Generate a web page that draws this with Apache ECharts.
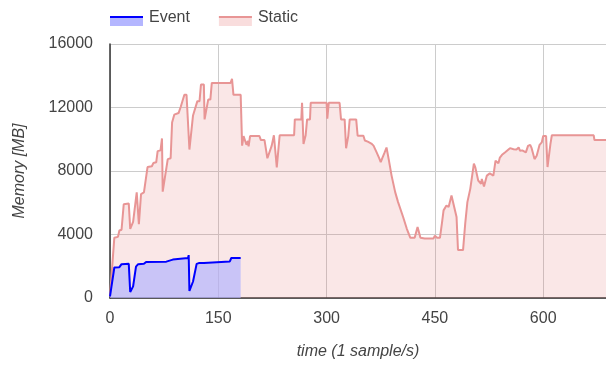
<!DOCTYPE html>
<html>
<head>
<meta charset="utf-8">
<script src="https://cdn.jsdelivr.net/npm/echarts@6/dist/echarts.min.js"></script>
<style>
html,body{margin:0;padding:0;background:#fff;}
#c{width:606px;height:365px;}
</style>
</head>
<body>
<div id="c"></div>
<script>
// time (s) and memory (MB) readings for each series
const eventTime = [0, 6, 13, 16, 26, 27, 28, 32, 36, 39, 47, 50, 78, 79, 87, 89, 108, 109, 110, 115, 120, 123, 130, 132, 166, 168, 181];
const eventMem  = [100, 1920, 1940, 2130, 2150, 2150, 380, 730, 1980, 2130, 2150, 2270, 2290, 2400, 2420, 2480, 2520, 2700, 450, 1040, 2150, 2200, 2200, 2300, 2300, 2520, 2520];

const staticTime = [0, 6, 11, 13, 16, 19, 26, 28, 32, 37, 39, 40, 43, 47, 52, 58, 60, 64, 66, 70, 72, 73, 80, 84, 86, 89, 95, 98, 103, 106,
  110, 115, 121, 124, 126, 130, 131, 136, 139, 141, 167, 169, 171, 181, 183, 185, 187, 189, 191, 192, 194, 207, 209, 214, 218, 224, 227, 231, 235,
  255, 256, 265, 266, 268, 271, 273, 277, 278, 300, 301, 303, 318, 320, 325, 327, 330, 332, 341, 343, 351, 353, 357, 359, 362, 365, 369, 373, 375,
  377, 380, 383, 386, 390, 395, 399, 406, 411, 416, 422, 426, 430, 436, 448, 450, 453, 457, 460, 462, 466, 469, 473, 480, 482, 489, 492, 495, 499,
  504, 506, 510, 514, 515, 518, 522, 526, 531, 534, 536, 538, 540, 543, 545, 547, 554, 559, 563, 566, 568, 571, 573, 576, 579, 582, 584, 588, 591,
  595, 598, 600, 604, 606, 610, 612, 670, 671, 687];
const staticMem = [100, 3800, 3850, 4250, 4300, 5900, 5950, 4350, 4800, 6650, 6550, 4650, 6550, 6650, 8250, 8300, 8500, 8550, 9250, 9300, 10050, 6700, 8750, 8800, 11050, 11550, 11650, 12050, 12800, 12800,
  9350, 11500, 12400, 12400, 13450, 13450, 11250, 12500, 12500, 13550, 13550, 13800, 12800, 12800, 9600, 10200, 10200, 9650, 9900, 9550, 10200, 10200, 9950, 9950, 8800, 9600, 10250, 8230, 10250,
  10250, 11250, 11250, 12300, 9700, 10250, 11250, 11250, 12300, 12300, 11300, 12300, 12300, 11250, 11250, 9430, 10200, 11250, 11250, 10220, 10220, 9920, 9850, 9790, 9730, 9600, 9200, 8800, 8550,
  8790, 9125, 9480, 8750, 7710, 6670, 6040, 5100, 4375, 3790, 3790, 4480, 3790, 3750, 3750, 3920, 3790, 3790, 4790, 5520, 5830, 5730, 6460, 5100, 3020, 3020, 4690, 6040, 6875,
  8470, 8230, 7400, 7190, 7500, 7020, 7710, 7850, 7710, 8650, 8700, 8480, 8850, 9020, 8950, 9170, 9440, 9375, 9350, 9480, 9270, 9300, 9230, 9170, 9580, 9650, 9440, 8750, 8960,
  9650, 9800, 10200, 10200, 8250, 9690, 10250, 10250, 9950, 9950];

const seriesNames = ['Event', 'Static'];
const xTicks = [0, 150, 300, 450, 600];
const yTicks = [0, 4000, 8000, 12000, 16000];

const zip = (a, b) => a.map((t, i) => [t, b[i]]);

const lineColors = {Event: '#0000ff', Static: '#e89595'};
const fillColors = {Event: 'rgba(176,178,255,0.95)', Static: 'rgba(228,112,112,0.24)'};
const FONT = '"Liberation Sans", Arial, sans-serif';

const chart = echarts.init(document.getElementById('c'), null, {renderer: 'canvas'});

const legendBase = {
  left: 110, top: 10, padding: 0, itemWidth: 33, itemHeight: 16, itemGap: 29,
  textStyle: {fontSize: 16, fontFamily: FONT, color: '#444', padding: [0,0,0,1]},
  selectedMode: true
};

chart.setOption({
  animation: false,
  backgroundColor: '#fff',
  grid: {left: 110, right: 0, top: 44, bottom: 62, containLabel: false},
  legend: [
    Object.assign({}, legendBase, {
      data: seriesNames.map(n => ({name: n, icon: 'path://M0,0L0.01,0Z M0,6L33,6L33,16L0,16Z',
        itemStyle: {color: fillColors[n], borderWidth: 0}}))
    }),
    Object.assign({}, legendBase, {
      textStyle: Object.assign({}, legendBase.textStyle, {color: 'rgba(0,0,0,0)'}),
      data: seriesNames.map(n => ({name: n, icon: 'path://M0,0L0.01,0Z M0,6L33,6L33,8L0,8Z M0,16L0.01,16Z',
        itemStyle: {color: lineColors[n], borderWidth: 0}}))
    })
  ],
  xAxis: {
    type: 'value', min: xTicks[0], max: 687, interval: xTicks[1] - xTicks[0],
    name: 'time (1 sample/s)', nameLocation: 'middle', nameGap: 46,
    nameTextStyle: {fontSize: 16, fontStyle: 'italic', fontFamily: FONT, color: '#444'},
    axisLine: {show: true, onZero: false, lineStyle: {color: '#333', width: 1.5}},
    axisTick: {show: false},
    axisLabel: {fontSize: 16, fontFamily: FONT, color: '#444', margin: 13, showMaxLabel: false,
      formatter: v => (xTicks.indexOf(v) >= 0 ? String(v) : '')},
    splitLine: {show: true, showMaxLine: false, lineStyle: {color: '#cccccc', width: 1}}
  },
  yAxis: {
    type: 'value', min: yTicks[0], max: yTicks[yTicks.length - 1], interval: yTicks[1] - yTicks[0],
    name: 'Memory [MB]', nameLocation: 'middle', nameGap: 82,
    nameTextStyle: {fontSize: 16, fontStyle: 'italic', fontFamily: FONT, color: '#444'},
    axisLine: {show: true, lineStyle: {color: '#333', width: 1.5}},
    axisTick: {show: false},
    axisLabel: {fontSize: 16, fontFamily: FONT, color: '#444', margin: 17, formatter: v => String(v)},
    splitLine: {show: true, lineStyle: {color: '#cccccc', width: 1}}
  },
  series: [
    {
      name: 'Static', type: 'line', data: zip(staticTime, staticMem), z: 2,
      showSymbol: false, symbol: 'none',
      lineStyle: {color: lineColors.Static, width: 2},
      itemStyle: {color: lineColors.Static},
      areaStyle: {color: fillColors.Static, origin: 'start'}
    },
    {
      name: 'Event', type: 'line', data: zip(eventTime, eventMem), z: 3,
      showSymbol: false, symbol: 'none',
      lineStyle: {color: lineColors.Event, width: 2},
      itemStyle: {color: lineColors.Event},
      areaStyle: {color: fillColors.Event, origin: 'start'}
    }
  ]
});
</script>
</body>
</html>
